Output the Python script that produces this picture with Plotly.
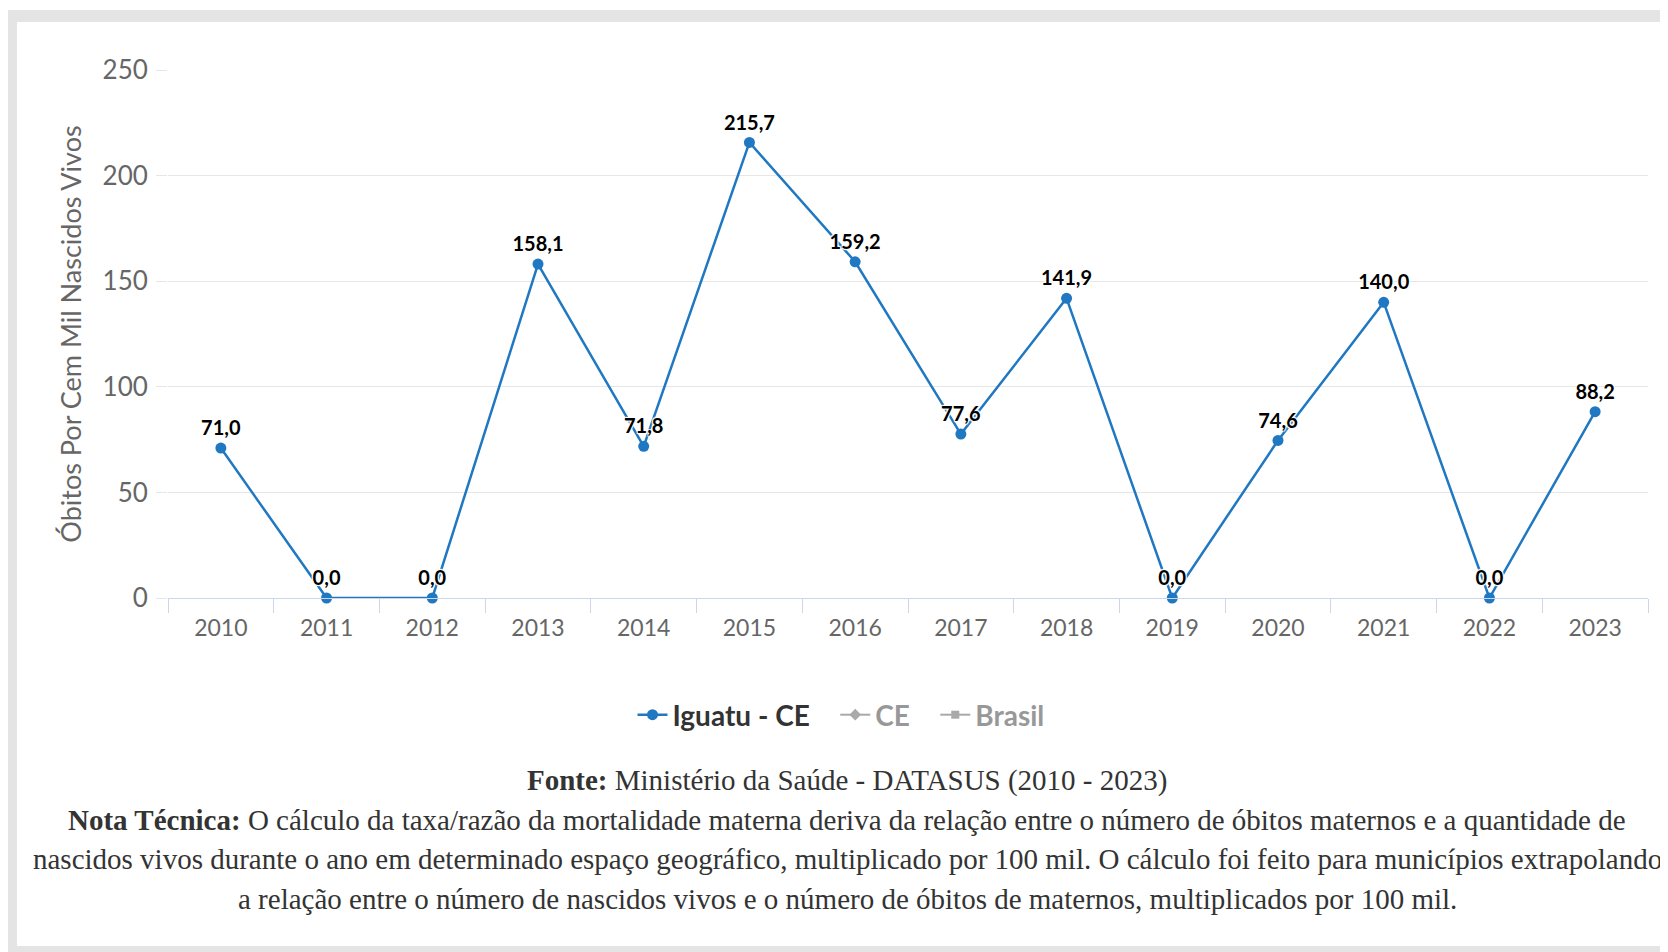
import plotly.graph_objects as go

# dados (Iguatu - CE), razão de mortalidade materna
anos = ['2010', '2011', '2012', '2013', '2014', '2015', '2016',
        '2017', '2018', '2019', '2020', '2021', '2022', '2023']
iguatu = [71.0, 0.0, 0.0, 158.1, 71.8, 215.7, 159.2,
          77.6, 141.9, 0.0, 74.6, 140.0, 0.0, 88.2]
# séries ocultas na legenda (sem valores visíveis no gráfico)
ce = [None] * len(anos)
brasil = [None] * len(anos)

OFF = 8                      # margem padrão do <body>
W, H = 1668 - OFF, 952 - OFF
L, R, T, B = 168 - OFF, 1648 - OFF, 70 - OFF, 598 - OFF   # área do gráfico


def px_x(px):
    # px em coordenadas da página
    return (px - OFF - L) / (R - L)


def px_y(py):
    return (B - (py - OFF)) / (B - T)


rotulos = [f'{v:.1f}'.replace('.', ',') for v in iguatu]
espaco = '&nbsp;' * 3

fig = go.Figure()

fig.add_trace(go.Scatter(
    x=anos, y=iguatu,
    mode='lines+markers+text',
    name='Iguatu - CE' + espaco,
    line=dict(color='#1f78c1', width=2.5),
    marker=dict(size=11, color='#1f78c1'),
    text=rotulos,
    textposition='top center',
    textfont=dict(family='Lato', size=20, color='#000000', weight='bold',
                  shadow='1px 1px 1px #fff, -1px -1px 1px #fff, 1px -1px 1px #fff, -1px 1px 1px #fff'),
    cliponaxis=False,
))

fig.add_trace(go.Scatter(
    x=anos, y=ce, mode='lines+markers', name='CE' + espaco,
    line=dict(color='#555555', width=2),
    marker=dict(symbol='diamond', size=9, color='#555555'),
    visible='legendonly',
))

fig.add_trace(go.Scatter(
    x=anos, y=brasil, mode='lines+markers', name='Brasil',
    line=dict(color='#555555', width=2),
    marker=dict(symbol='square', size=8, color='#555555'),
    visible='legendonly',
))

cinza = '#e4e4e4'
fig.add_shape(type='rect', xref='paper', yref='paper', layer='below',
              x0=px_x(OFF), x1=px_x(1668), y0=px_y(10), y1=px_y(22),
              fillcolor=cinza, line_width=0)
fig.add_shape(type='rect', xref='paper', yref='paper', layer='below',
              x0=px_x(OFF), x1=px_x(17), y0=px_y(10), y1=px_y(952),
              fillcolor=cinza, line_width=0)
fig.add_shape(type='rect', xref='paper', yref='paper', layer='below',
              x0=px_x(OFF), x1=px_x(1668), y0=px_y(946), y1=px_y(952),
              fillcolor=cinza, line_width=0)

notas = [
    (780, '<b>Fonte:</b> Ministério da Saúde - DATASUS (2010 - 2023)'),
    (820, '<b>Nota Técnica:</b> O cálculo da taxa/razão da mortalidade materna deriva da relação entre o número de óbitos maternos e a quantidade de'),
    (859, 'nascidos vivos durante o ano em determinado espaço geográfico, multiplicado por 100 mil. O cálculo foi feito para municípios extrapolando'),
    (899, 'a relação entre o número de nascidos vivos e o número de óbitos de maternos, multiplicados por 100 mil.'),
]
for py, txt in notas:
    fig.add_annotation(
        text=txt, xref='paper', yref='paper',
        x=px_x(847), y=px_y(py), xanchor='center', yanchor='middle',
        showarrow=False,
        font=dict(family='Liberation Serif', size=29, color='#333333'),
    )

fig.update_layout(
    width=W, height=H,
    margin=dict(l=L, r=W - R, t=T, b=H - B),
    paper_bgcolor='white', plot_bgcolor='white',
    showlegend=True,
    legend=dict(
        orientation='h', xref='container', yref='container',
        x=(841 - OFF) / W, xanchor='center', y=1 - (715 - OFF) / H, yanchor='middle',
        font=dict(family='Lato', size=28, color='#333333', weight='bold'),
        itemclick=False, itemdoubleclick=False,
    ),
    xaxis=dict(
        type='category', tickson='boundaries', range=[-0.5, len(anos) - 0.5],
        ticks='outside', ticklen=14, tickcolor='#ccd6eb', tickwidth=1,
        ticklabelstandoff=9,
        showline=True, linecolor='#ccd6eb', linewidth=1,
        showgrid=False, fixedrange=True,
        tickfont=dict(family='Lato', size=23, color='#666666'),
    ),
    yaxis=dict(
        range=[0, 250], dtick=50, tick0=0,
        gridcolor='#e6e6e6', gridwidth=1, zeroline=False,
        ticks='outside', ticklen=11, tickcolor='#e6e6e6',
        ticklabelstandoff=3,
        tickfont=dict(family='Lato', size=26, color='#666666'),
        title=dict(text='Óbitos Por Cem Mil Nascidos Vivos', standoff=13,
                   font=dict(family='Lato', size=27, color='#666666')),
        fixedrange=True,
    ),
)

fig.write_html('out.html')
